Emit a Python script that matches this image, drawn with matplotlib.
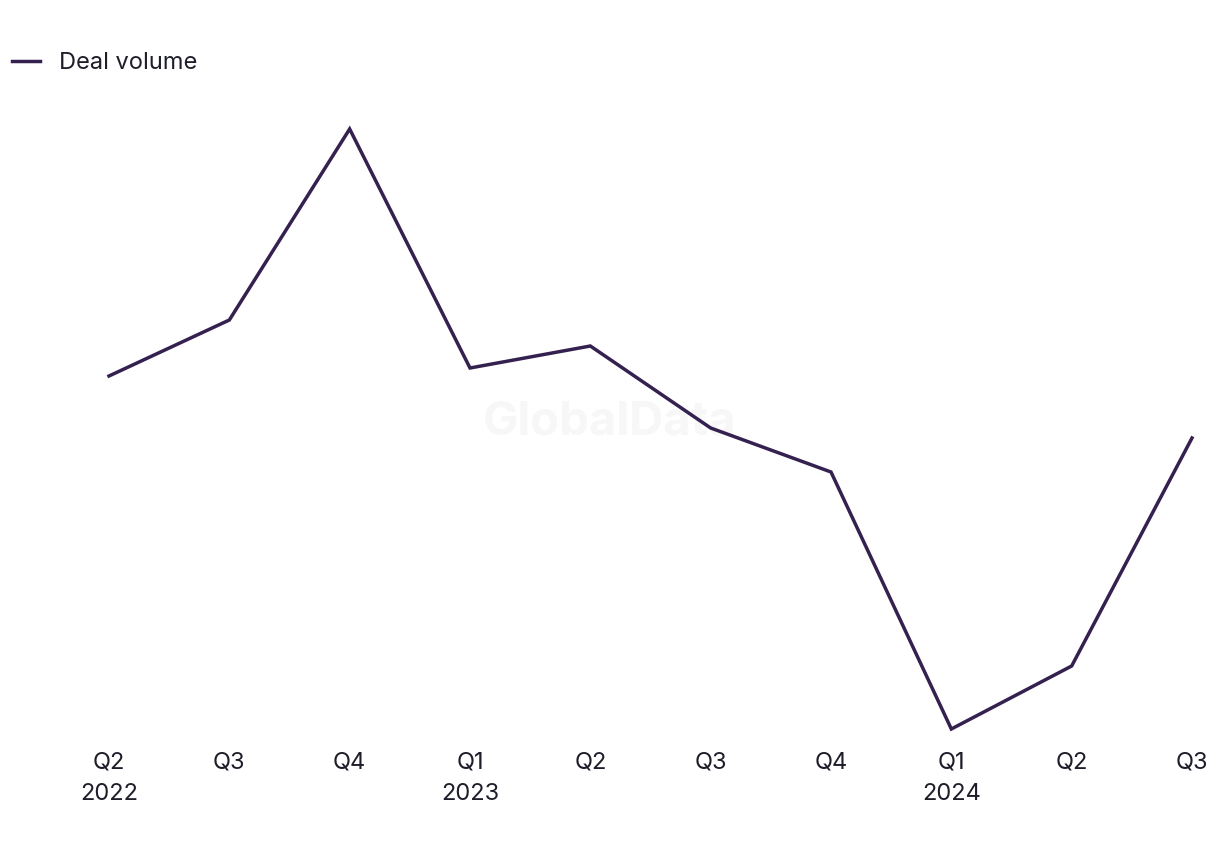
import matplotlib
matplotlib.use("Agg")
import matplotlib.pyplot as plt

# quarterly deal volume (no axis scale shown)
quarters = ["Q2\n2022", "Q3", "Q4", "Q1\n2023", "Q2", "Q3", "Q4", "Q1\n2024", "Q2", "Q3"]
deal_volume = [52.4, 58.0, 77.1, 53.2, 55.4, 47.2, 42.8, 17.1, 23.4, 46.2]

line_color = "#35214f"
text_color = "#1e1e2a"

plt.rcParams["font.family"] = ["Inter", "DejaVu Sans"]

fig = plt.figure(figsize=(12.2, 8.5), dpi=100)
ax = fig.add_axes([109 / 1220, (850 - 729) / 850, (1192 - 109) / 1220, 600 / 850])
ax.patch.set_alpha(0)

x = list(range(len(quarters)))
ax.plot(x, deal_volume, color=line_color, lw=2.5, clip_on=False,
        solid_joinstyle="miter", label="Deal volume")

ax.set_xlim(0, len(quarters) - 1)
ax.set_ylim(min(deal_volume), max(deal_volume))
ax.set_xticks(x)
ax.set_xticklabels(quarters, fontsize=17, color=text_color, linespacing=1.55)
ax.tick_params(axis="x", length=0, pad=16)
ax.set_yticks([])
for s in ax.spines.values():
    s.set_visible(False)

# faint watermark behind the line
fig.text(0.5, 1 - 423 / 850, "GlobalData", fontsize=34, fontweight="bold",
         color="#f7f7f7", ha="center", va="center", zorder=-1)

fig.legend(loc="center left", bbox_to_anchor=(12 / 1220, 1 - 63 / 850),
           frameon=False, fontsize=17, handlelength=1.2, handletextpad=0.8,
           borderpad=0, borderaxespad=0, labelcolor=text_color)

fig.savefig("out.png", dpi=100, facecolor="white")
